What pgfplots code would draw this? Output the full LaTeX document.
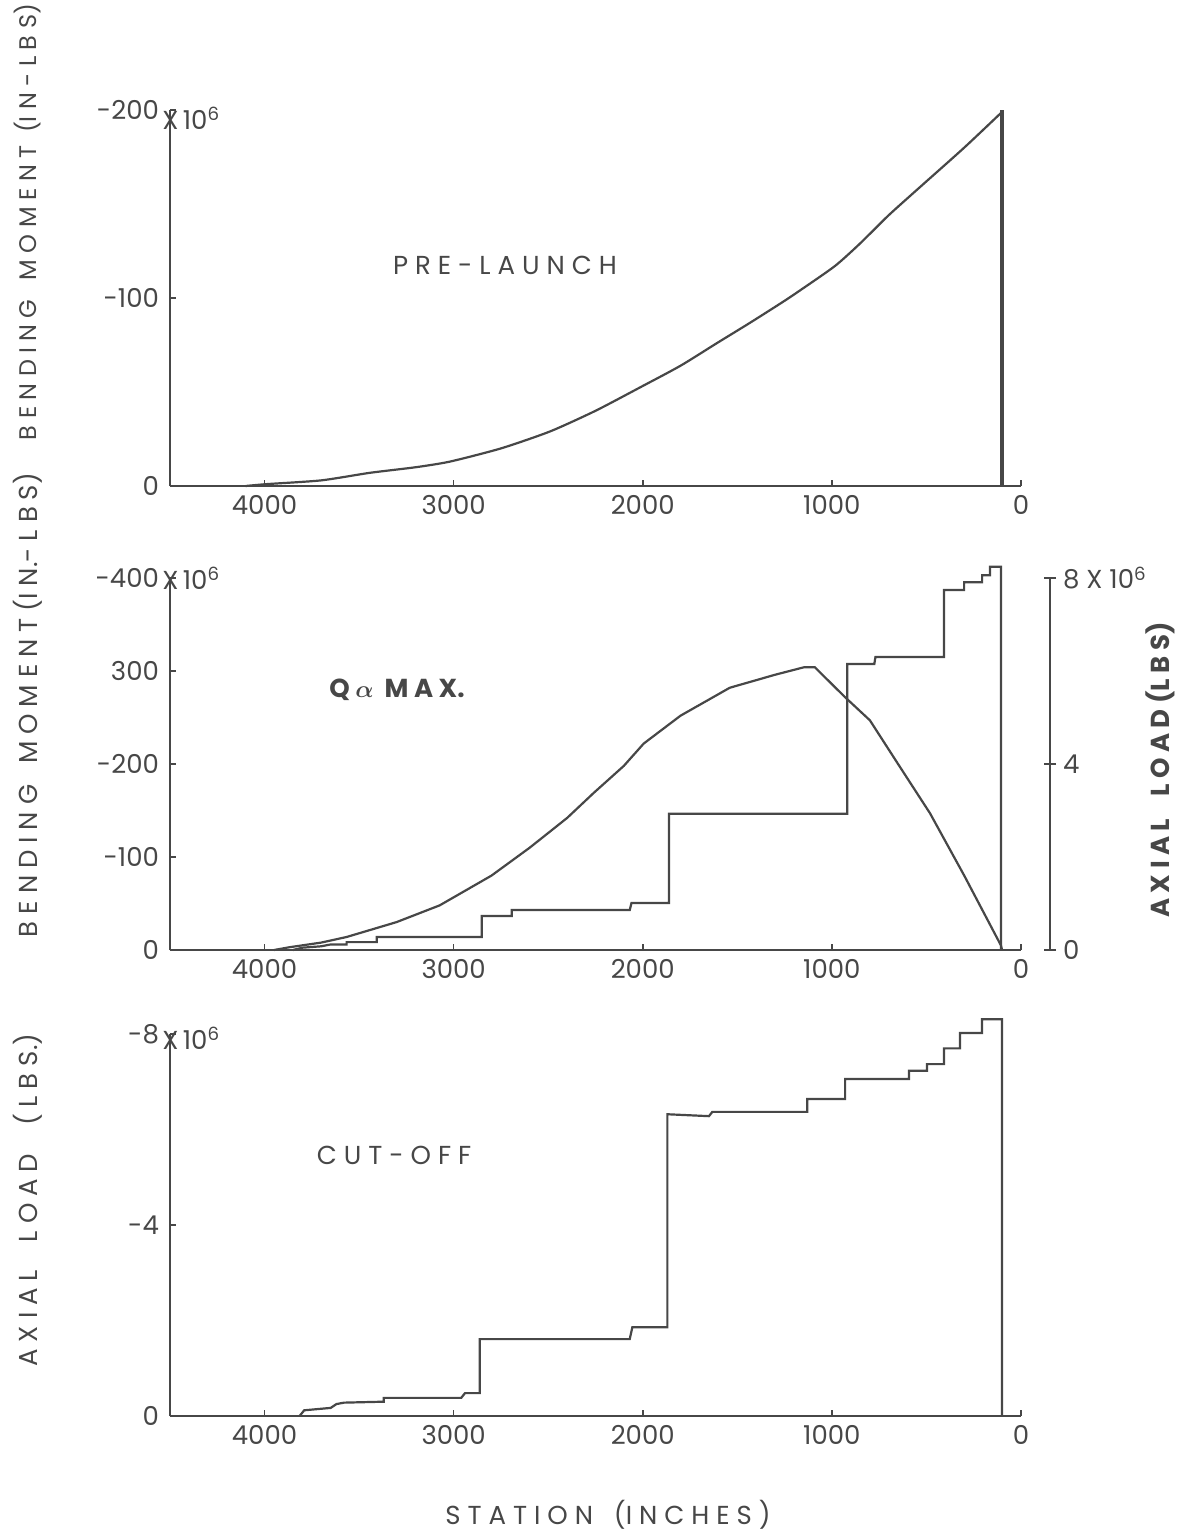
\documentclass[border=0pt]{standalone}
\usepackage{fontspec}
\setmainfont{Poppins}
\usepackage{pgfplots}
\pgfplotsset{compat=1.18}
\definecolor{ink}{gray}{0.28}

\pgfplotsset{
  panel/.style={
    scale only axis, width=425.5pt, anchor=south west,
    xmin=0, xmax=4500, x dir=reverse,
    axis x line*=bottom, axis y line*=left,
    axis line style={ink, line width=1.4pt},
    xtick={0,1000,2000,3000,4000},
    xticklabels={0,1000,2000,3000,4000},
    tick align=inside, major tick length=3pt,
    tick style={ink, line width=0.8pt},
    ticklabel style={font=\fontsize{13}{15}\selectfont, text=ink},
    xticklabel style={yshift=-1pt},
    yticklabel style={xshift=-2pt},
    clip=false,
  },
  curve/.style={ink, line width=1.1pt, mark=none},
}

\begin{document}
\begin{tikzpicture}
\useasboundingbox (0,0) rectangle (591pt,-765.5pt);

% ---- pre-launch
\begin{axis}[panel, at={(85pt,-243pt)}, height=188pt,
  ymin=0, ymax=200, ytick={0,100,200}, yticklabels={0,-100,-200}]
\addplot[curve, smooth, tension=0.4] coordinates {
(4100,0) (3990,1) (3700,3) (3444,7) (3200,10) (3019,13) (2750,20)
(2491,29) (2250,40) (2004,53) (1800,64) (1608,76) (1430,87)
(1258,98) (1169,104) (984,117) (851,129) (700,144) (534,159)
(300,180) (100,199)
};
\addplot[ink, line width=2pt] coordinates {(100,0) (100,200)};
\end{axis}

% ---- q-alpha max, bending moment
\begin{axis}[panel, at={(85pt,-475pt)}, height=186pt,
  ymin=0, ymax=400, ytick={0,100,200,300,400},
  yticklabels={0,-100,-200,300,-400}]
\addplot[curve] coordinates {
(3950,0) (3868,3) (3700,8) (3566,14) (3302,30) (3074,48) (2800,80)
(2598,110) (2400,142) (2259,169) (2100,198) (1995,222) (1800,252)
(1540,282) (1300,296) (1148,304) (1090,304) (931,272) (799,247)
(650,200) (481,147) (300,80) (106,5) (100,0)
};
\end{axis}

% ---- q-alpha max, axial load (right scale)
\begin{axis}[scale only axis, width=440pt, height=186pt, anchor=south west,
  at={(85pt,-475pt)}, xmin=-153, xmax=4500, x dir=reverse,
  ymin=0, ymax=8, axis x line=none, axis y line*=right,
  axis line style={ink, line width=1.4pt},
  ytick={0,4,8}, yticklabels={0,4,{8 X 10\textsuperscript{6}}},
  tick align=center, major tick length=6pt,
  tick style={ink, line width=0.8pt},
  ticklabel style={font=\fontsize{13}{15}\selectfont, text=ink},
  clip=false]
\addplot[curve] coordinates {
(3850,0) (3800,0.05) (3700,0.08) (3650,0.12) (3566,0.12) (3566,0.17)
(3407,0.17) (3407,0.28) (2852,0.28) (2852,0.73) (2693,0.73) (2693,0.86)
(2069,0.86) (2060,1.01) (1862,1.01) (1862,2.93) (919,2.93) (919,6.15)
(776,6.15) (770,6.30) (407,6.30) (407,7.74) (301,7.74) (301,7.91)
(206,7.91) (206,8.06) (164,8.06) (164,8.24) (106,8.24) (106,0)
};
\end{axis}

% ---- cut-off, axial load
\begin{axis}[panel, at={(85pt,-708pt)}, height=191pt,
  ymin=0, ymax=8, ytick={0,4,8}, yticklabels={0,-4,-8}]
\addplot[curve] coordinates {
(3815,0) (3790,0.12) (3650,0.17) (3620,0.25) (3580,0.28) (3370,0.30)
(3370,0.38) (2960,0.38) (2940,0.48) (2862,0.48) (2862,1.61) (2069,1.61)
(2055,1.86) (1870,1.86) (1870,6.32) (1650,6.28) (1632,6.37) (1130,6.37)
(1130,6.64) (930,6.64) (930,7.06) (592,7.06) (592,7.23) (497,7.23)
(497,7.37) (407,7.37) (407,7.70) (323,7.70) (323,8.02) (206,8.02)
(206,8.31) (100,8.31) (100,0)
};
\end{axis}

\begin{scope}[every node/.style={text=ink, font=\fontsize{13}{15}\selectfont}]
\node[rotate=90, font=\fontsize{12}{14}\selectfont] at (14pt,-111pt) {B E N D I N G \ \ M O M E N T \ (I N - L B S)};
\node[rotate=90] at (14pt,-352.5pt) {B E N D I N G \ \ M O M E N T (I N.- L B S)};
\node[rotate=90] at (14pt,-600pt) {A X I A L \ \ \ L O A D \ \ \ ( L B S.)};
\node[rotate=90] at (580pt,-385pt) {\textbf{A X I A L \ \ \ L O A D (L B S)}};
\node at (252.5pt,-132.5pt) {P R E - L A U N C H};
\node at (198.5pt,-345pt) {\textbf{Q {\boldmath$\alpha$} \ M A X.}};
\node at (197pt,-577.5pt) {C U T - O F F};
\node at (304pt,-757.5pt) {S T A T I O N \ \ (I N C H E S )};
\node[anchor=west, inner sep=0pt] at (81pt,-59pt) {X\,10\textsuperscript{6}};
\node[anchor=west, inner sep=0pt] at (81pt,-289pt) {X\,10\textsuperscript{6}};
\node[anchor=west, inner sep=0pt] at (81pt,-519pt) {X\,10\textsuperscript{6}};
\end{scope}
\end{tikzpicture}
\end{document}
